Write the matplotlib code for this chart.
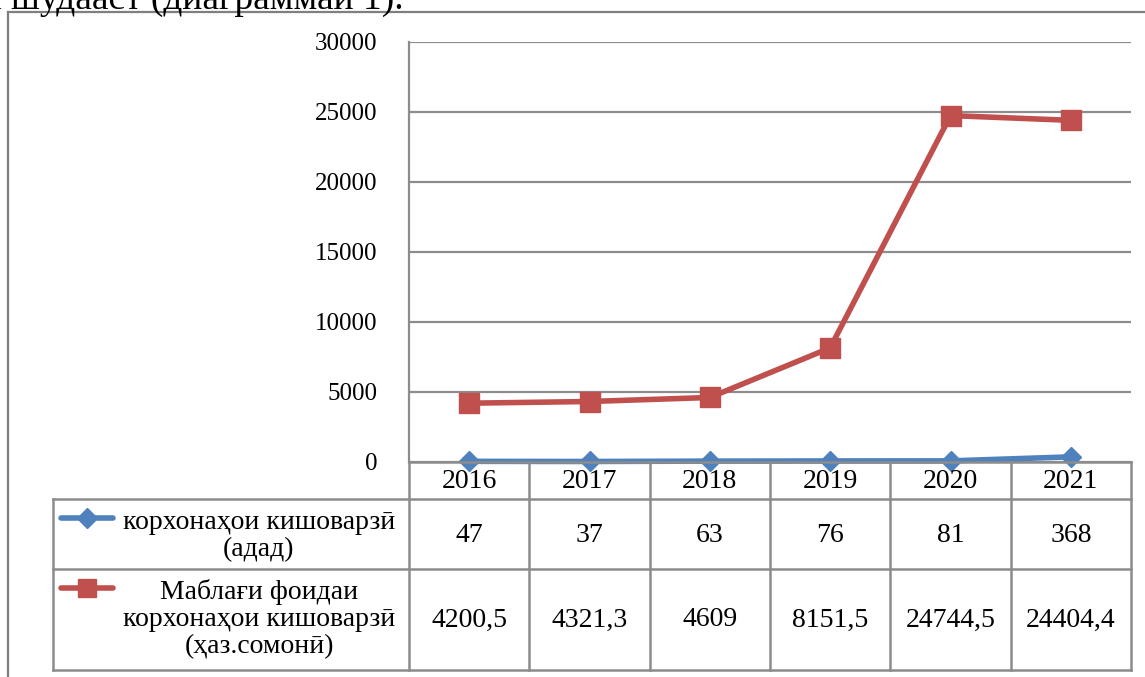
import matplotlib
matplotlib.use("Agg")
import matplotlib.pyplot as plt
from matplotlib.lines import Line2D
from matplotlib.transforms import blended_transform_factory

plt.rcParams['font.family'] = ['Liberation Serif', 'DejaVu Serif']

years = ['2016', '2017', '2018', '2019', '2020', '2021']
enterprises = [47, 37, 63, 76, 81, 368]
profit = [4200.5, 4321.3, 4609, 8151.5, 24744.5, 24404.4]
enterprises_labels = ['47', '37', '63', '76', '81', '368']
profit_labels = ['4200,5', '4321,3', '4609', '8151,5', '24744,5', '24404,4']
yticks = [0, 5000, 10000, 15000, 20000, 25000, 30000]
series1_name = 'корхонаҳои кишоварзӣ\n(адад)'
series2_name = 'Маблағи фоидаи\nкорхонаҳои кишоварзӣ\n(ҳаз.сомонӣ)'

W, H = 1145, 677
fig = plt.figure(figsize=(W / 100, H / 100), dpi=100)

def fx(px):
    return px / W

def fy(py):
    return 1 - py / H

ax = fig.add_axes([fx(409), fy(462), fx(1131) - fx(409), fy(42) - fy(462)])
blue = '#4F81BD'
red = '#C0504D'
grid_c = '#8C8C8C'
fs_tick = 18
fs = 20

x = list(range(len(years)))
ax.plot(x, profit, color=red, lw=4, marker='s', ms=14, mec=red, mfc=red,
        clip_on=False, zorder=4, solid_capstyle='round')
ax.plot(x, enterprises, color=blue, lw=4, marker='D', ms=10, mec=blue, mfc=blue,
        clip_on=False, zorder=5, solid_capstyle='round')

ax.set_xlim(-0.5, len(years) - 0.5)
ax.set_ylim(0, 30000)
ax.set_yticks(yticks)
ax.set_yticklabels([str(v) for v in yticks], fontsize=fs_tick)
ax.tick_params(axis='y', length=0, pad=23)
ax.set_xticks([])
ax.grid(axis='y', color=grid_c, lw=1.6)
ax.set_axisbelow(True)
for s in ['top', 'right', 'bottom']:
    ax.spines[s].set_visible(False)
ax.spines['left'].set_color(grid_c)
ax.spines['left'].set_linewidth(1.6)

# Table
bt = blended_transform_factory(ax.transData, fig.transFigure)
lw_t = 1.8

def hline(y, x0, x1):
    fig.add_artist(Line2D([fx(x0), fx(x1)], [fy(y), fy(y)], color=grid_c, lw=lw_t,
                          transform=fig.transFigure))

def vline_data(xd, y0, y1):
    fig.add_artist(Line2D([xd, xd], [fy(y0), fy(y1)], color=grid_c, lw=lw_t, transform=bt))

hline(462, 409, 1131)
for yy in (499, 569, 670):
    hline(yy, 53, 1131)
fig.add_artist(Line2D([fx(53), fx(53)], [fy(499), fy(670)], color=grid_c, lw=lw_t,
                      transform=fig.transFigure))
vline_data(-0.5, 462, 670)
for i in range(len(years)):
    vline_data(i + 0.5, 462, 670)

for i, yr in enumerate(years):
    fig.text(i, fy(482), yr, transform=bt, ha='center', va='center', fontsize=fs)
    fig.text(i, fy(536), enterprises_labels[i], transform=bt, ha='center', va='center', fontsize=fs)
    fig.text(i, fy(620), profit_labels[i], transform=bt, ha='center', va='center', fontsize=fs)

# Legend keys
fig.add_artist(Line2D([fx(61), fx(113)], [fy(518), fy(518)], color=blue, lw=4,
                      solid_capstyle='round', transform=fig.transFigure))
fig.add_artist(Line2D([fx(87)], [fy(518)], color=blue, marker='D', ms=10, mec=blue,
                      transform=fig.transFigure))
fig.add_artist(Line2D([fx(61), fx(113)], [fy(588), fy(588)], color=red, lw=4,
                      solid_capstyle='round', transform=fig.transFigure))
fig.add_artist(Line2D([fx(87)], [fy(588)], color=red, marker='s', ms=13, mec=red,
                      transform=fig.transFigure))
fig.text(fx(259), fy(536), series1_name, ha='center', va='center', fontsize=fs,
         linespacing=1.1)
fig.text(fx(259), fy(619), series2_name, ha='center', va='center', fontsize=fs,
         linespacing=1.1)

# Outer frame
fig.add_artist(Line2D([fx(8), fx(8)], [fy(12), fy(677)], color='#7F7F7F', lw=1.6,
                      transform=fig.transFigure))
fig.add_artist(Line2D([fx(8), fx(1145)], [fy(12), fy(12)], color='#7F7F7F', lw=1.6,
                      transform=fig.transFigure))

# cut-off caption at top
fig.text(fx(404), fy(9), 'а шудааст (диаграммаи 1).', ha='right', va='baseline',
         fontsize=27)

fig.savefig('out.png', dpi=100)
